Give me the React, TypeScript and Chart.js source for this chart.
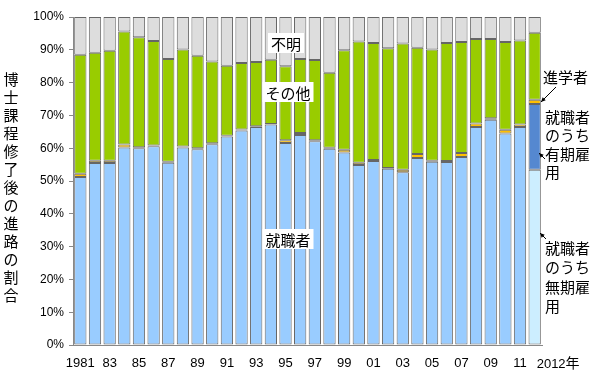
import React, { useEffect, useRef } from "react";
import { Chart, registerables } from "chart.js";

Chart.register(...registerables);

const years = [
  "1981", "1982", "1983", "1984", "1985", "1986", "1987", "1988", "1989", "1990",
  "1991", "1992", "1993", "1994", "1995", "1996", "1997", "1998", "1999", "2000",
  "2001", "2002", "2003", "2004", "2005", "2006", "2007", "2008", "2009", "2010",
  "2011", "2012",
];

// 就職者 (1981-2011)
const employed = [
  51.2, 55.5, 55.5, 60.2, 60.0, 60.6, 55.6, 60.2, 59.7, 61.2,
  63.6, 65.4, 66.5, 67.2, 61.6, 64.0, 62.1, 59.8, 58.7, 54.9,
  56.1, 53.7, 52.7, 57.0, 55.9, 55.8, 57.3, 66.5, 68.7, 64.5,
  66.5, null,
];
// 2012: 就職者のうち無期雇用 / 有期雇用
const permanent = [
  null, null, null, null, null, null, null, null, null, null,
  null, null, null, null, null, null, null, null, null, null,
  null, null, null, null, null, null, null, null, null, null,
  null, 53.4,
];
const fixedTerm = [
  null, null, null, null, null, null, null, null, null, null,
  null, null, null, null, null, null, null, null, null, null,
  null, null, null, null, null, null, null, null, null, null,
  null, 20.1,
];
// 進学者
const advance = [
  1.0, 0.7, 0.7, 0.9, 0.3, 0.2, 0.3, 0.3, 0.3, 0.3,
  0.2, 0.3, 0.2, 0.2, 0.8, 0.6, 0.3, 0.3, 0.8, 0.7,
  0.3, 0.3, 0.7, 1.2, 0.3, 0.3, 1.2, 1.0, 0.4, 1.1,
  0.7, 1.3,
];
// その他
const other = [
  36.3, 32.9, 33.5, 34.5, 33.5, 31.9, 31.3, 29.6, 28.2, 24.9,
  21.3, 20.3, 19.6, 19.6, 22.6, 22.6, 24.5, 22.9, 30.4, 36.9,
  35.7, 36.5, 38.5, 32.4, 33.9, 36.0, 33.9, 25.8, 24.2, 26.8,
  25.6, 20.4,
];
// 不明
const unknown = [
  11.5, 10.9, 10.3, 4.4, 6.2, 7.3, 12.8, 9.9, 11.8, 13.6,
  14.9, 14.0, 13.7, 13.0, 15.0, 12.8, 13.1, 17.0, 10.1, 7.5,
  7.9, 9.5, 8.1, 9.4, 9.9, 7.9, 7.6, 6.7, 6.7, 7.6,
  7.2, 4.8,
];

const yTicks = [0, 10, 20, 30, 40, 50, 60, 70, 80, 90, 100];
const yTitle = "博士課程修了後の進路の割合";

const JP = '"Noto Sans CJK JP", sans-serif';
const NUM = '"Liberation Sans", Arial, sans-serif';

function arrow(ctx: CanvasRenderingContext2D, x1: number, y1: number, x2: number, y2: number) {
  ctx.save();
  ctx.strokeStyle = "#000";
  ctx.fillStyle = "#000";
  ctx.lineWidth = 1;
  ctx.beginPath();
  ctx.moveTo(x1, y1);
  ctx.lineTo(x2, y2);
  ctx.stroke();
  const a = Math.atan2(y2 - y1, x2 - x1);
  const L = 5;
  ctx.beginPath();
  ctx.moveTo(x2, y2);
  ctx.lineTo(x2 - L * Math.cos(a - 0.45), y2 - L * Math.sin(a - 0.45));
  ctx.lineTo(x2 - L * Math.cos(a + 0.45), y2 - L * Math.sin(a + 0.45));
  ctx.closePath();
  ctx.fill();
  ctx.restore();
}

const annotations = {
  id: "annotations",
  afterDatasetsDraw(chart: any) {
    const ctx = chart.ctx as CanvasRenderingContext2D;
    ctx.save();
    // boxed labels inside plot
    ctx.font = `15px ${JP}`;
    ctx.textAlign = "center";
    ctx.textBaseline = "middle";
    const boxed = [
      { t: "不明", x: 286, y: 43 },
      { t: "その他", x: 288, y: 92 },
      { t: "就職者", x: 288, y: 239 },
    ];
    for (const b of boxed) {
      const w = ctx.measureText(b.t).width + 6;
      ctx.fillStyle = "#fff";
      ctx.fillRect(b.x - w / 2, b.y - 10, w, 20);
      ctx.fillStyle = "#000";
      ctx.fillText(b.t, b.x, b.y + 1);
    }
    // right annotations
    ctx.textAlign = "left";
    ctx.fillText("進学者", 543, 77);
    const l1 = ["就職者", "のうち", "有期雇", "用"];
    l1.forEach((s, i) => ctx.fillText(s, 545, 117 + i * 18.5));
    const l2 = ["就職者", "のうち", "無期雇", "用"];
    l2.forEach((s, i) => ctx.fillText(s, 545, 248 + i * 19.5));
    arrow(ctx, 556, 87, 541, 102);
    arrow(ctx, 545, 159, 539, 153);
    arrow(ctx, 546, 239, 540, 233);

    // y title vertical
    ctx.textAlign = "center";
    ctx.font = `15px ${JP}`;
    Array.from(yTitle).forEach((c, i) => ctx.fillText(c, 11, 79 + i * 18));

    // last category label "2012年"
    const xs = chart.scales.x;
    const xc = xs.getPixelForValue(31);
    ctx.font = `13px ${NUM}`;
    const last = years[31];
    const wl = ctx.measureText(last).width;
    const x0 = xc + 2;
    ctx.fillText(last, x0 + wl / 2, 364);
    ctx.font = `14px ${JP}`;
    ctx.textAlign = "left";
    ctx.fillText("年", x0 + wl, 363);
    ctx.restore();
  },
};

export default function App() {
  const ref = useRef<HTMLCanvasElement>(null);
  useEffect(() => {
    document.body.style.margin = "0";
    const border = "#666";
    const mk = (label: string, data: any[], color: string) => ({
      label,
      data,
      backgroundColor: color,
      borderColor: border,
      borderWidth: 1,
      borderSkipped: false,
      categoryPercentage: 1,
      barPercentage: 0.84,
    });
    const chart = new Chart(ref.current!, {
      type: "bar",
      data: {
        labels: years,
        datasets: [
          mk("就職者", employed, "#99CCFF"),
          mk("就職者のうち無期雇用", permanent, "#CCEEFF"),
          mk("就職者のうち有期雇用", fixedTerm, "#5588D0"),
          mk("進学者", advance, "#FFC000"),
          mk("その他", other, "#99CC00"),
          mk("不明", unknown, "#DDDDDD"),
        ] as any,
      },
      options: {
        responsive: false,
        animation: false,
        layout: { padding: { top: 17, right: 58, left: 0, bottom: 0 } },
        plugins: { legend: { display: false }, tooltip: { enabled: false } },
        scales: {
          x: {
            stacked: true,
            grid: { display: true, drawOnChartArea: false, drawTicks: false },
            border: { display: true, color: "#888" },
            ticks: {
              autoSkip: false,
              maxRotation: 0,
              color: "#000",
              font: { family: NUM, size: 13 },
              padding: 11,
              callback: (_v: any, i: number) => {
                if (i === 0) return years[0];
                if (i === 31) return "";
                if (i % 2 === 0) return years[i].slice(2);
                return "";
              },
            },
            afterFit: (s: any) => {
              s.height = 46;
            },
          },
          y: {
            stacked: true,
            min: 0,
            max: 100,
            afterBuildTicks: (s: any) => {
              s.ticks = yTicks.map((v) => ({ value: v }));
            },
            grid: { display: true, drawOnChartArea: false, drawTicks: true, tickLength: 4, color: "#888" },
            border: { display: true, color: "#888" },
            ticks: {
              color: "#000",
              font: { family: NUM, size: 12 },
              padding: 5,
              callback: (v: any) => `${v}%`,
            },
            afterFit: (s: any) => {
              s.width = 73;
            },
          },
        },
      },
      plugins: [annotations],
    });
    return () => chart.destroy();
  }, []);
  return (
    <div style={{ width: 600, height: 391 }}>
      <canvas ref={ref} width={600} height={391} />
    </div>
  );
}
